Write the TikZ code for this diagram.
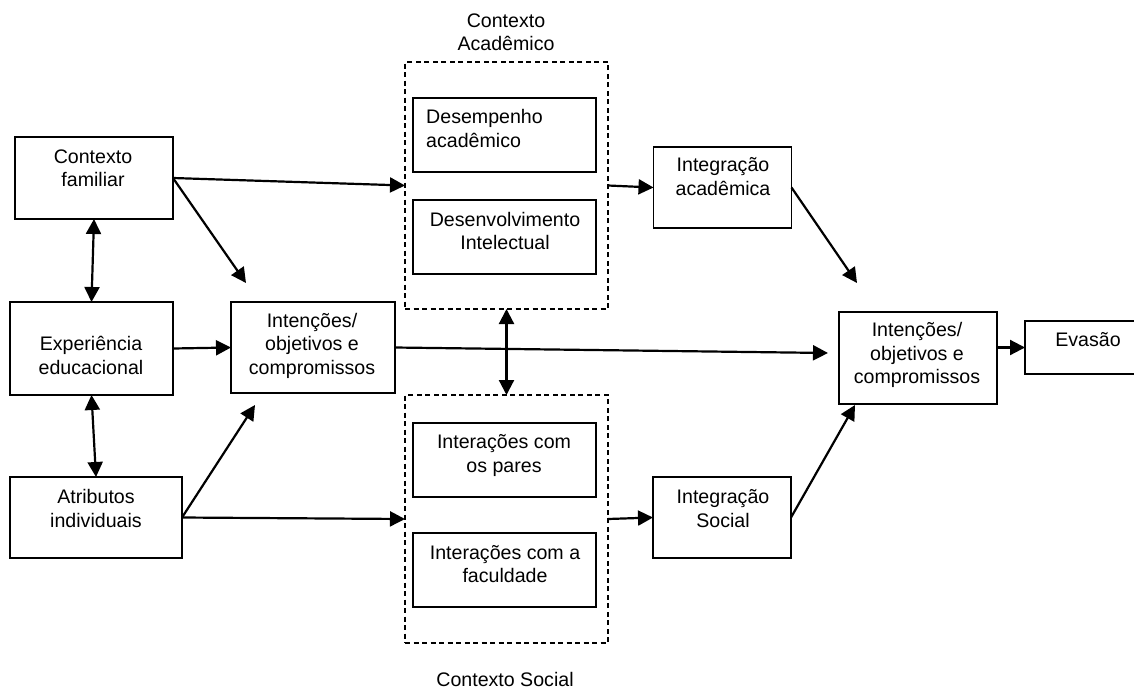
\documentclass[tikz,border=0pt]{standalone}
\usepackage{fontspec}
\setmainfont{Liberation Sans}
\usetikzlibrary{arrows.meta}
\begin{document}
\begin{tikzpicture}[x=1pt,y=-1pt,
  box/.style={draw,line width=1.6pt,inner sep=0pt,outer sep=0pt,rectangle},
  ctx/.style={draw,line width=1.3pt,dash pattern=on 5pt off 3.5pt,inner sep=0pt,outer sep=0pt,rectangle},
  lbl/.style={font=\fontsize{19.6}{23.5}\selectfont,align=center,inner sep=0pt},
  tip/.tip={Triangle[length=15pt,width=15pt]},
  arr/.style={line width=2.2pt,-tip},
  darr/.style={line width=2.2pt,tip-tip}]
\path[use as bounding box,clip] (0,0) rectangle (1134,688);

% boxes
\node[box,minimum width=158pt,minimum height=82pt] (cf) at (94,178) {};
\node[box,minimum width=163pt,minimum height=93pt] (exp) at (91.5,348.5) {};
\node[box,minimum width=164pt,minimum height=91pt] (intl) at (313,347.5) {};
\node[box,minimum width=172pt,minimum height=81pt] (atr) at (96,517.5) {};
\node[ctx,minimum width=203pt,minimum height=247pt] (acad) at (506.5,185.5) {};
\node[box,minimum width=183pt,minimum height=74pt] (des) at (504.5,135) {};
\node[box,minimum width=183pt,minimum height=74pt] (dev) at (504.5,237) {};
\node[ctx,minimum width=203pt,minimum height=248pt] (soc) at (506.5,519) {};
\node[box,minimum width=183pt,minimum height=74pt] (ip) at (504.5,460) {};
\node[box,minimum width=183pt,minimum height=74pt] (if) at (504.5,570) {};
\node[box,minimum width=138pt,minimum height=81pt] (ia) at (722.5,187.5) {};
\node[box,minimum width=138pt,minimum height=81pt] (is) at (722,517.5) {};
\node[box,minimum width=158pt,minimum height=92pt] (intr) at (918,358) {};
\node[box,minimum width=126pt,minimum height=53pt] (ev) at (1088,347.5) {};

% texts
\node[lbl] (tcf) at (93,168) {Contexto\\familiar};
\node[lbl] (texp) at (91,355.5) {Experiência\\educacional};
\node[lbl] (tintl) at (312,345.5) {Intenções/\\objetivos e\\compromissos};
\node[lbl] (tatr) at (96,508.5) {Atributos\\individuais};
\node[lbl] (tctxa) at (506,32.5) {Contexto\\Acadêmico};
\node[lbl,align=left,anchor=west] (tdes) at (426,128.5) {Desempenho\\acadêmico};
\node[lbl] (tdev) at (505,231) {Desenvolvimento\\Intelectual};
\node[lbl] (tip) at (504,455.5) {Interações com\\os pares};
\node[lbl] (tif) at (505,564) {Interações com a\\faculdade};
\node[lbl] (tctxs) at (505,679) {Contexto Social};
\node[lbl] (tia) at (723,176.5) {Integração\\acadêmica};
\node[lbl] (tis) at (723,508.5) {Integração\\Social};
\node[lbl] (tintr) at (917,355) {Intenções/\\objetivos e\\compromissos};
\node[lbl] (tev) at (1088,340) {Evasão};

% free ends
\coordinate (e1) at (246,283);
\coordinate (e2) at (255,405);
\coordinate (e3) at (828,353);
\coordinate (e4) at (857,283);
\coordinate (e5) at (855,405);

% connectors
\draw[arr] (cf.east) -- (acad.west);
\draw[arr] (cf.east) -- (e1);
\draw[darr] (cf.south) -- (exp.north);
\draw[arr] (exp.east) -- (intl.west);
\draw[darr] (exp.south) -- (atr.north);
\draw[arr] (atr.east) -- (e2);
\draw[arr] (atr.east) -- (soc.west);
\draw[arr] (intl.east) -- (e3);
\draw[darr] (acad.south) -- (soc.north);
\draw[arr] (acad.east) -- (ia.west);
\draw[arr] (soc.east) -- (is.west);
\draw[arr] (ia.east) -- (e4);
\draw[arr] (is.east) -- (e5);
\draw[arr] (ev.west -| intr.east) -- (ev.west);
\end{tikzpicture}
\end{document}
